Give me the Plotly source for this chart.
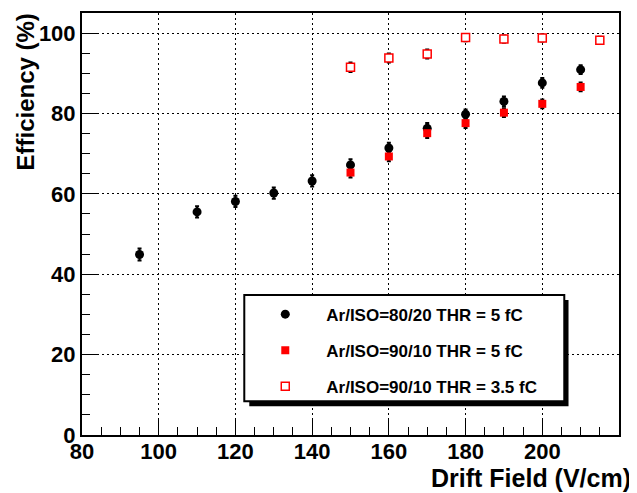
import plotly.graph_objects as go

# Data
x_black = [95, 110, 120, 130, 140, 150, 160, 170, 180, 190, 200, 210]
y_black = [44.9, 55.5, 58.1, 60.2, 63.2, 67.2, 71.4, 76.3, 79.8, 83.0, 87.6, 90.9]
e_black = [1.5, 1.4, 1.4, 1.4, 1.4, 1.4, 1.3, 1.3, 1.2, 1.2, 1.2, 1.1]

x_red = [150, 160, 170, 180, 190, 200, 210]
y_red = [65.3, 69.3, 75.1, 77.6, 80.2, 82.4, 86.6]
e_red = [1.2, 1.2, 1.2, 1.2, 1.1, 1.1, 1.1]

x_open = [150, 160, 170, 180, 190, 200, 215]
y_open = [91.5, 93.8, 94.8, 98.9, 98.5, 98.8, 98.2]
e_open = [1.2, 1.1, 1.1, 0.9, 0.9, 0.9, 0.9]

names = ["Ar/ISO=80/20 THR = 5 fC", "Ar/ISO=90/10 THR = 5 fC", "Ar/ISO=90/10 THR = 3.5 fC"]

FONT = "Liberation Sans, Arial, Helvetica, sans-serif"

fig = go.Figure()

def err(arr):
    return dict(type="data", array=arr, visible=True, color="black", thickness=2, width=2)

fig.add_trace(go.Scatter(x=x_black, y=y_black, mode="markers", name=names[0], legendgroup="a",
                         marker=dict(symbol="circle", size=9, color="black"),
                         error_y=err(e_black)))
fig.add_trace(go.Scatter(x=x_red, y=y_red, mode="markers", name=names[1], legendgroup="b",
                         marker=dict(symbol="square", size=8, color="#ff0000"),
                         error_y=err(e_red)))
fig.add_trace(go.Scatter(x=x_open, y=y_open, mode="markers", name=names[2], legendgroup="c",
                         marker=dict(symbol="square", size=8, color="white",
                                     line=dict(color="#ff0000", width=1.5)),
                         error_y=err(e_open)))

axis_common = dict(
    showline=True, linecolor="black", linewidth=2, mirror=True,
    ticks="inside", ticklen=15, tickwidth=1, tickcolor="black",
    showgrid=True, gridcolor="black", gridwidth=1, griddash="2px,3px",
    zeroline=False,
    tickfont=dict(family=FONT, size=22, color="black", weight="bold"),
)

fig.update_layout(
    width=629, height=485,
    margin=dict(l=74, r=18, t=3, b=58),
    paper_bgcolor="white", plot_bgcolor="white",
    font=dict(family=FONT, color="black", weight="bold"),
    xaxis=dict(range=[80, 220], tick0=80, dtick=20, ticklabelstandoff=-4,
               minor=dict(dtick=5, ticks="inside", ticklen=8, tickcolor="black", showgrid=False),
               **axis_common),
    yaxis=dict(range=[0, 105], tick0=0, dtick=20,
               minor=dict(dtick=5, ticks="inside", ticklen=8, tickcolor="black", showgrid=False),
               **axis_common),
    showlegend=True,
    legend=dict(x=0.3022, y=0.328, xanchor="left", yanchor="top",
                bgcolor="rgba(0,0,0,0)", borderwidth=0,
                font=dict(family=FONT, size=17, color="black", weight="bold"),
                itemwidth=72, traceorder="grouped", tracegroupgap=11),
    shapes=[
        dict(type="rect", xref="paper", yref="paper", x0=0.3115, x1=0.906, y0=0.0684, y1=0.32,
             fillcolor="black", line=dict(width=0), layer="above"),
        dict(type="rect", xref="paper", yref="paper", x0=0.3022, x1=0.8981, y0=0.0802, y1=0.3318,
             fillcolor="white", line=dict(color="black", width=2), layer="above"),
    ],
    annotations=[
        dict(text="Drift Field (V/cm)", xref="paper", yref="paper", x=1.026, y=-0.101,
             xanchor="right", yanchor="middle", showarrow=False,
             font=dict(family=FONT, size=25, color="black", weight="bold")),
        dict(text="Efficiency (%)", xref="paper", yref="paper", x=-0.1043, y=1.0047,
             xanchor="center", yanchor="top", textangle=-90, showarrow=False,
             font=dict(family=FONT, size=24, color="black", weight="bold")),
    ],
)

fig.write_html("out.html")
